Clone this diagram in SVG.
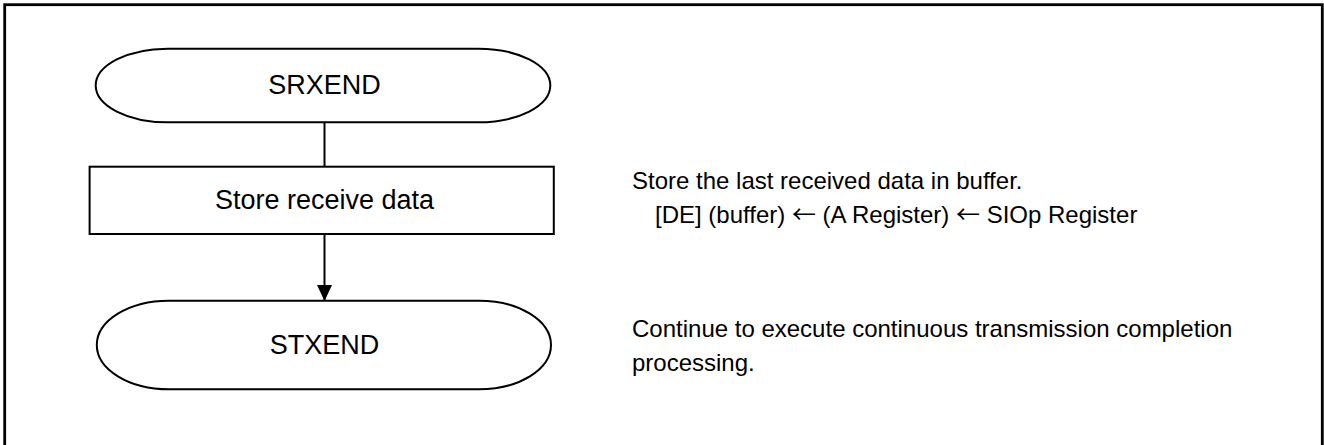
<svg xmlns="http://www.w3.org/2000/svg" width="1324" height="445" viewBox="0 0 1324 445">
<style>
.shape{fill:#fff;stroke:#000;stroke-width:2}
.lbl{font-family:"Liberation Sans",Arial,sans-serif;fill:#000}
.fc{font-size:27px;text-anchor:middle}
.note{font-size:24px}
.arw{font-family:"Noto Sans CJK JP","Liberation Sans",sans-serif}
.conn{stroke:#000;stroke-width:2;fill:none}
</style>
<defs>
<marker id="ah" viewBox="0 0 16 15" refX="16" refY="7.5" markerWidth="16" markerHeight="15" markerUnits="userSpaceOnUse" orient="auto">
<path d="M0,0 L16,7.5 L0,15 Z" fill="#000"/>
</marker>
</defs>
<rect x="4.7" y="4.7" width="1317.6" height="470" fill="#fff" stroke="#000" stroke-width="2.8"/>
<g id="connectors">
<line class="conn" x1="324.5" y1="122" x2="324.5" y2="167"/>
<line class="conn" x1="324.5" y1="234" x2="324.5" y2="301" marker-end="url(#ah)"/>
</g>
<g id="srxend">
<rect class="shape" x="95.7" y="48.7" width="454.6" height="73.6" rx="72" ry="36.8"/>
<text class="lbl fc" x="324.5" y="94">SRXEND</text>
</g>
<g id="store">
<rect class="shape" x="89.6" y="166.7" width="464.2" height="67.3"/>
<text class="lbl fc" x="324.5" y="209">Store receive data</text>
</g>
<g id="stxend">
<rect class="shape" x="96.8" y="300.7" width="454.2" height="88.6" rx="72" ry="44.3"/>
<text class="lbl fc" x="324.5" y="354">STXEND</text>
</g>
<g id="notes">
<text class="lbl note" x="632" y="189">Store the last received data in buffer.</text>
<text class="lbl note" x="655" y="223">[DE] (buffer) <tspan class="arw">←</tspan> (A Register) <tspan class="arw">←</tspan> SIOp Register</text>
<text class="lbl note" x="632" y="337">Continue to execute continuous transmission completion</text>
<text class="lbl note" x="632" y="371">processing.</text>
</g>
</svg>
